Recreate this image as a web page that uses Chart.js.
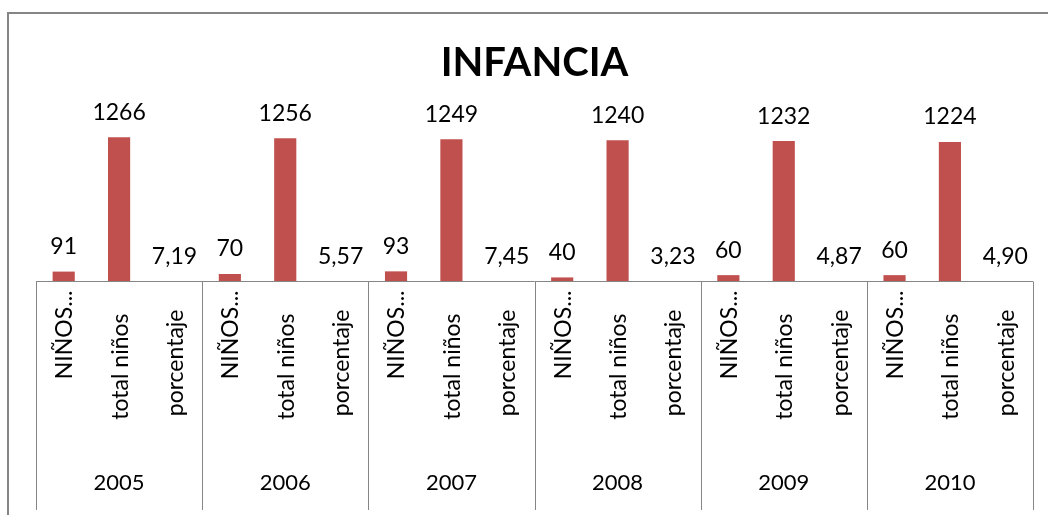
<!DOCTYPE html>
<html>
<head>
<meta charset="utf-8">
<script src="https://cdn.jsdelivr.net/npm/chart.js@4/dist/chart.umd.min.js"></script>
<style>
  html, body { margin: 0; padding: 0; background: #fff; }
  #wrap { width: 1048px; height: 515px; }
</style>
</head>
<body>
<div id="wrap"><canvas id="c" width="1048" height="515"></canvas></div>
<script>
// ---- data ----
const years = ['2005', '2006', '2007', '2008', '2009', '2010'];
const subCategories = ['NIÑOS...', 'total niños', 'porcentaje'];
const ninos = [91, 70, 93, 40, 60, 60];
const totalNinos = [1266, 1256, 1249, 1240, 1232, 1224];
const porcentaje = [7.19, 5.57, 7.45, 3.23, 4.87, 4.90];
const chartTitle = 'INFANCIA';

// build flattened categories / values
const labels = [];
const values = [];
const isPercent = [];
years.forEach((y, i) => {
  labels.push([subCategories[0], y]); values.push(ninos[i]); isPercent.push(false);
  labels.push([subCategories[1], y]); values.push(totalNinos[i]); isPercent.push(false);
  labels.push([subCategories[2], y]); values.push(porcentaje[i]); isPercent.push(true);
});

const FONT = 'Lato, "Open Sans", "Liberation Sans", sans-serif';
const lineColor = '#868686';

const excelAxisPlugin = {
  id: 'excelAxis',
  beforeDraw(chart) {
    const ctx = chart.ctx;
    ctx.save();
    ctx.strokeStyle = '#858585';
    ctx.lineWidth = 2;
    ctx.strokeRect(8, 13, 1200, 700);
    ctx.restore();
  },
  afterDraw(chart) {
    const ctx = chart.ctx;
    const xs = chart.scales.x;
    const area = chart.chartArea;
    const axisY = Math.round(area.bottom) - 0.5;
    const n = labels.length;
    const half = (xs.getPixelForValue(1) - xs.getPixelForValue(0)) / 2;
    ctx.save();
    // axis line
    ctx.strokeStyle = lineColor;
    ctx.lineWidth = 1;
    ctx.beginPath();
    ctx.moveTo(area.left, axisY);
    ctx.lineTo(area.right, axisY);
    // group separators
    for (let g = 0; g <= years.length; g++) {
      let x;
      if (g < years.length) x = xs.getPixelForValue(g * 3) - half;
      else x = xs.getPixelForValue(n - 1) + half;
      x = Math.round(x) + 0.5;
      ctx.moveTo(x, axisY);
      ctx.lineTo(x, 510);
    }
    ctx.stroke();

    // sub category labels (rotated)
    const subOffsets = [9, 32, 28];
    ctx.fillStyle = '#000';
    ctx.font = '23px ' + FONT;
    for (let i = 0; i < n; i++) {
      const x = xs.getPixelForValue(i);
      const k = i % 3;
      ctx.save();
      ctx.translate(x + 1, axisY + subOffsets[k]);
      ctx.rotate(-Math.PI / 2);
      ctx.textAlign = 'right';
      ctx.textBaseline = 'middle';
      ctx.fillText(labels[i][0], 0, 0);
      ctx.restore();
    }
    // year labels
    ctx.textAlign = 'center';
    ctx.textBaseline = 'middle';
    ctx.font = '22px ' + FONT;
    for (let g = 0; g < years.length; g++) {
      const x = xs.getPixelForValue(g * 3 + 1);
      ctx.fillText(years[g], x, 483);
    }
    // value labels
    const meta = chart.getDatasetMeta(0);
    ctx.font = '23px ' + FONT;
    meta.data.forEach((bar, i) => {
      const v = values[i];
      const txt = isPercent[i] ? v.toFixed(2).replace('.', ',') : String(v);
      ctx.fillText(txt, bar.x, bar.y - 25);
    });
    ctx.restore();
  }
};

new Chart(document.getElementById('c'), {
  type: 'bar',
  data: {
    labels: labels,
    datasets: [{
      data: values,
      backgroundColor: '#C0504D',
      borderWidth: 0,
      barPercentage: 0.4,
      categoryPercentage: 1.0
    }]
  },
  options: {
    responsive: false,
    animation: false,
    devicePixelRatio: 1,
    layout: { padding: { top: 14, left: 36, right: 15, bottom: 233 } },
    plugins: {
      legend: { display: false },
      tooltip: { enabled: false },
      title: {
        display: true,
        text: chartTitle,
        color: '#000',
        font: { family: FONT, size: 40, weight: 'bold', lineHeight: 1.2 },
        padding: { top: 25, bottom: 12 }
      }
    },
    scales: {
      x: { display: false, offset: true },
      y: { display: false, min: 0, max: 1600 }
    }
  },
  plugins: [excelAxisPlugin]
});
</script>
</body>
</html>
